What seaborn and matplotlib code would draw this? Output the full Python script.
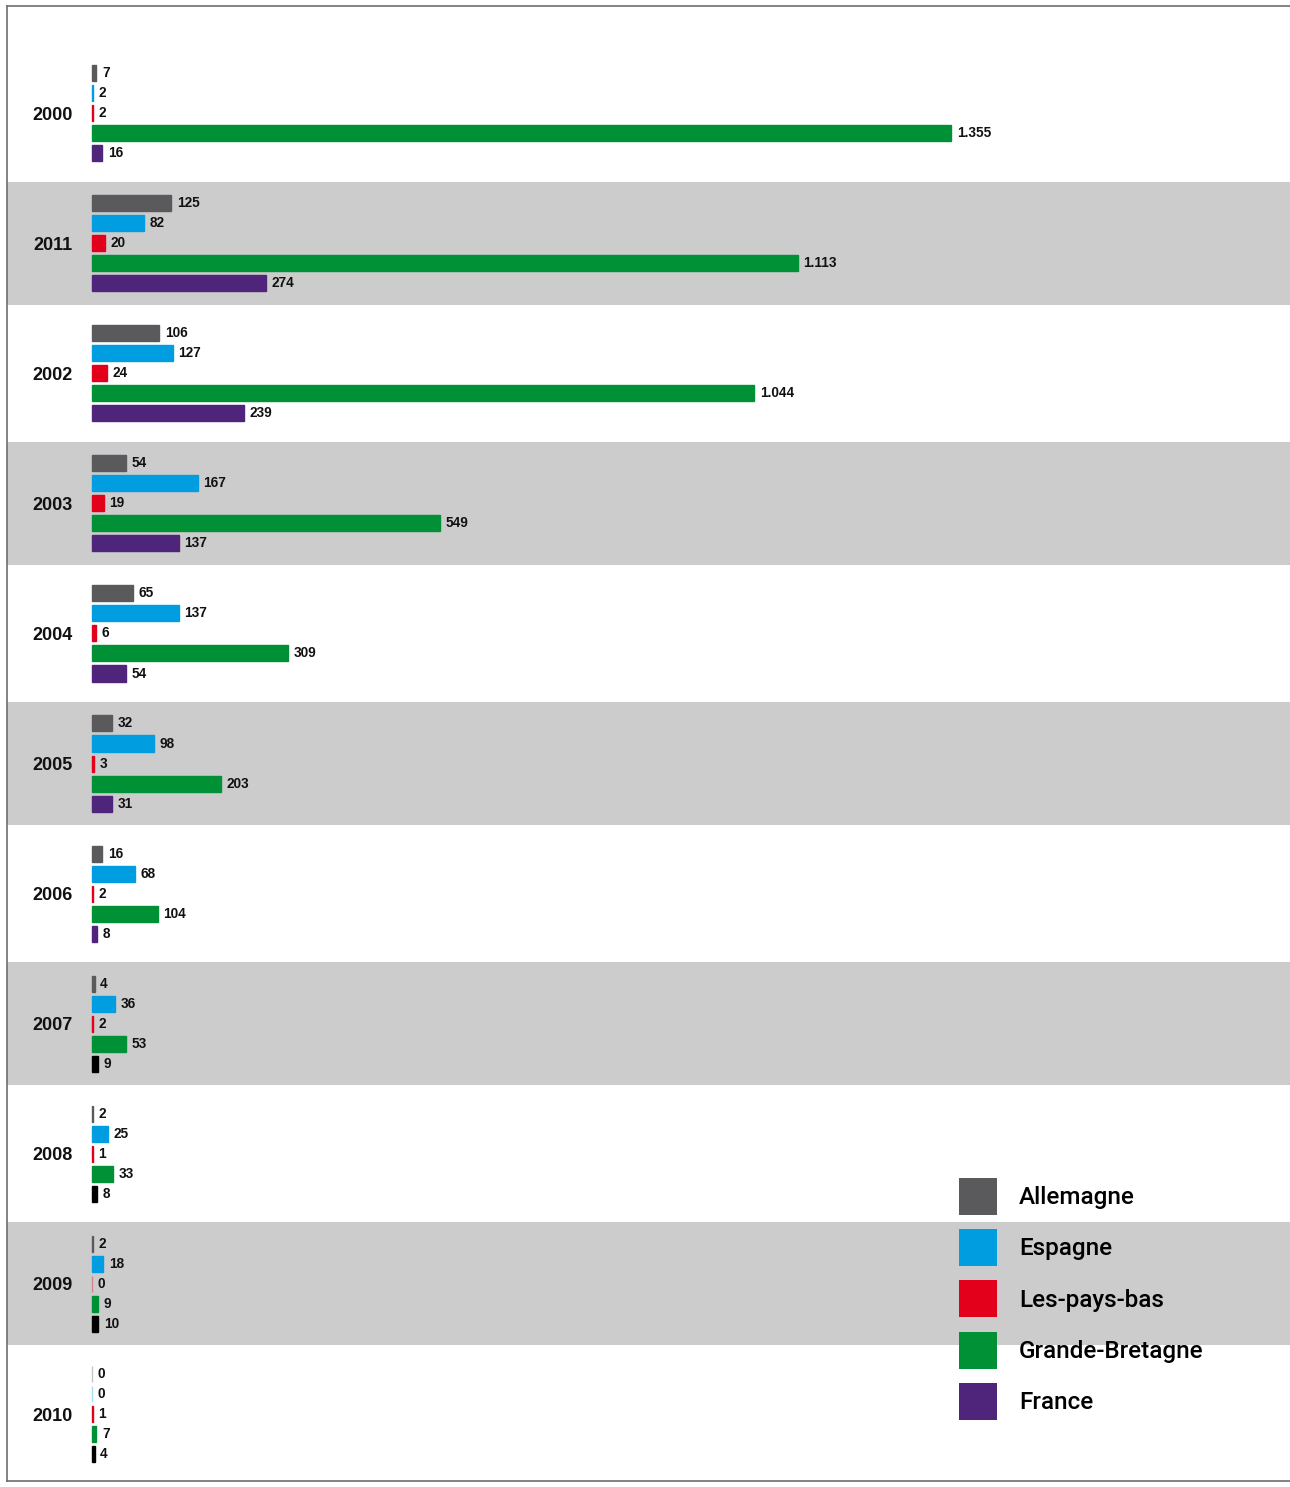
import pandas as pd
import numpy as np
import matplotlib.pyplot as plt
import seaborn as sns

# data

years = ["2000", "2011", "2002", "2003", "2004", "2005", "2006", "2007", "2008", "2009", "2010"]
countries = ["Allemagne", "Espagne", "Les-pays-bas", "Grande-Bretagne", "France"]
allemagne = [7, 125, 106, 54, 65, 32, 16, 4, 2, 2, 0]
espagne = [2, 82, 127, 167, 137, 98, 68, 36, 25, 18, 0]
pays_bas = [2, 20, 24, 19, 6, 3, 2, 2, 1, 0, 1]
grande_bretagne = [1355, 1113, 1044, 549, 309, 203, 104, 53, 33, 9, 7]
france = [16, 274, 239, 137, 54, 31, 8, 9, 8, 10, 4]
france_black_years = ["2007", "2008", "2009", "2010"]

colors = ["#5a5a5c", "#009de0", "#e2001a", "#009036", "#4f247b"]
series = [allemagne, espagne, pays_bas, grande_bretagne, france]

rows = []
for country, vals in zip(countries, series):
    for year, v in zip(years, vals):
        rows.append({"year": year, "country": country, "value": v})
df = pd.DataFrame(rows)


def fmt(v):
    return f"{v:,}".replace(",", ".")


plt.rcParams["font.family"] = ["Liberation Sans", "DejaVu Sans"]

W, H = 1290, 1487
fig = plt.figure(figsize=(W / 100, H / 100), dpi=100)
ax = fig.add_axes([7 / W, 6 / H, 1 - 7 / W, (1481 - 6) / H])

# alternating grey bands
for i in range(1, len(years), 2):
    ax.axhspan(i - 0.473, i + 0.473, color="#cccccc", zorder=0, lw=0)

sns.barplot(data=df, x="value", y="year", hue="country", order=years,
            hue_order=countries, palette=colors, orient="h", width=0.77,
            gap=0.2, saturation=1, ax=ax, zorder=2)

# france bars drawn black in the last years
for bar, year in zip(ax.containers[4], years):
    if year in france_black_years:
        bar.set_facecolor("black")

for container, vals in zip(ax.containers, series):
    for bar, v in zip(container, vals):
        bar.set_edgecolor(bar.get_facecolor())
        bar.set_linewidth(1.0)
        if v == 0:
            bar.set_alpha(0.35)
    ax.bar_label(container, labels=[fmt(v) for v in vals], padding=4,
                 fontsize=9.8, fontweight="bold", color="#111111")

ax.set_xlim(-134, 1889)
ax.set_ylim(10.515, -0.823)
ax.set_xticks([])
ax.set_xlabel("")
ax.set_ylabel("")
ax.tick_params(axis="y", length=0, pad=-47.5, labelsize=13)
for lbl in ax.get_yticklabels():
    lbl.set_fontweight("bold")
    lbl.set_color("#111111")

ax.spines["right"].set_visible(False)
for side in ["left", "top", "bottom"]:
    ax.spines[side].set_color("#6e6e6e")
    ax.spines[side].set_linewidth(1.2)

# legend
handles, labels = ax.get_legend_handles_labels()
ax.get_legend().remove()
fig.legend(handles, labels, loc="upper left",
           bbox_to_anchor=(959 / W, 1 - 1178 / H), frameon=False,
           prop={"family": ["Roboto", "Liberation Sans"], "weight": "medium", "size": 17.5},
           handlelength=1.55, handleheight=1.97, handletextpad=0.92,
           labelspacing=0.58, borderpad=0, borderaxespad=0)

fig.savefig("out.png", dpi=100)
